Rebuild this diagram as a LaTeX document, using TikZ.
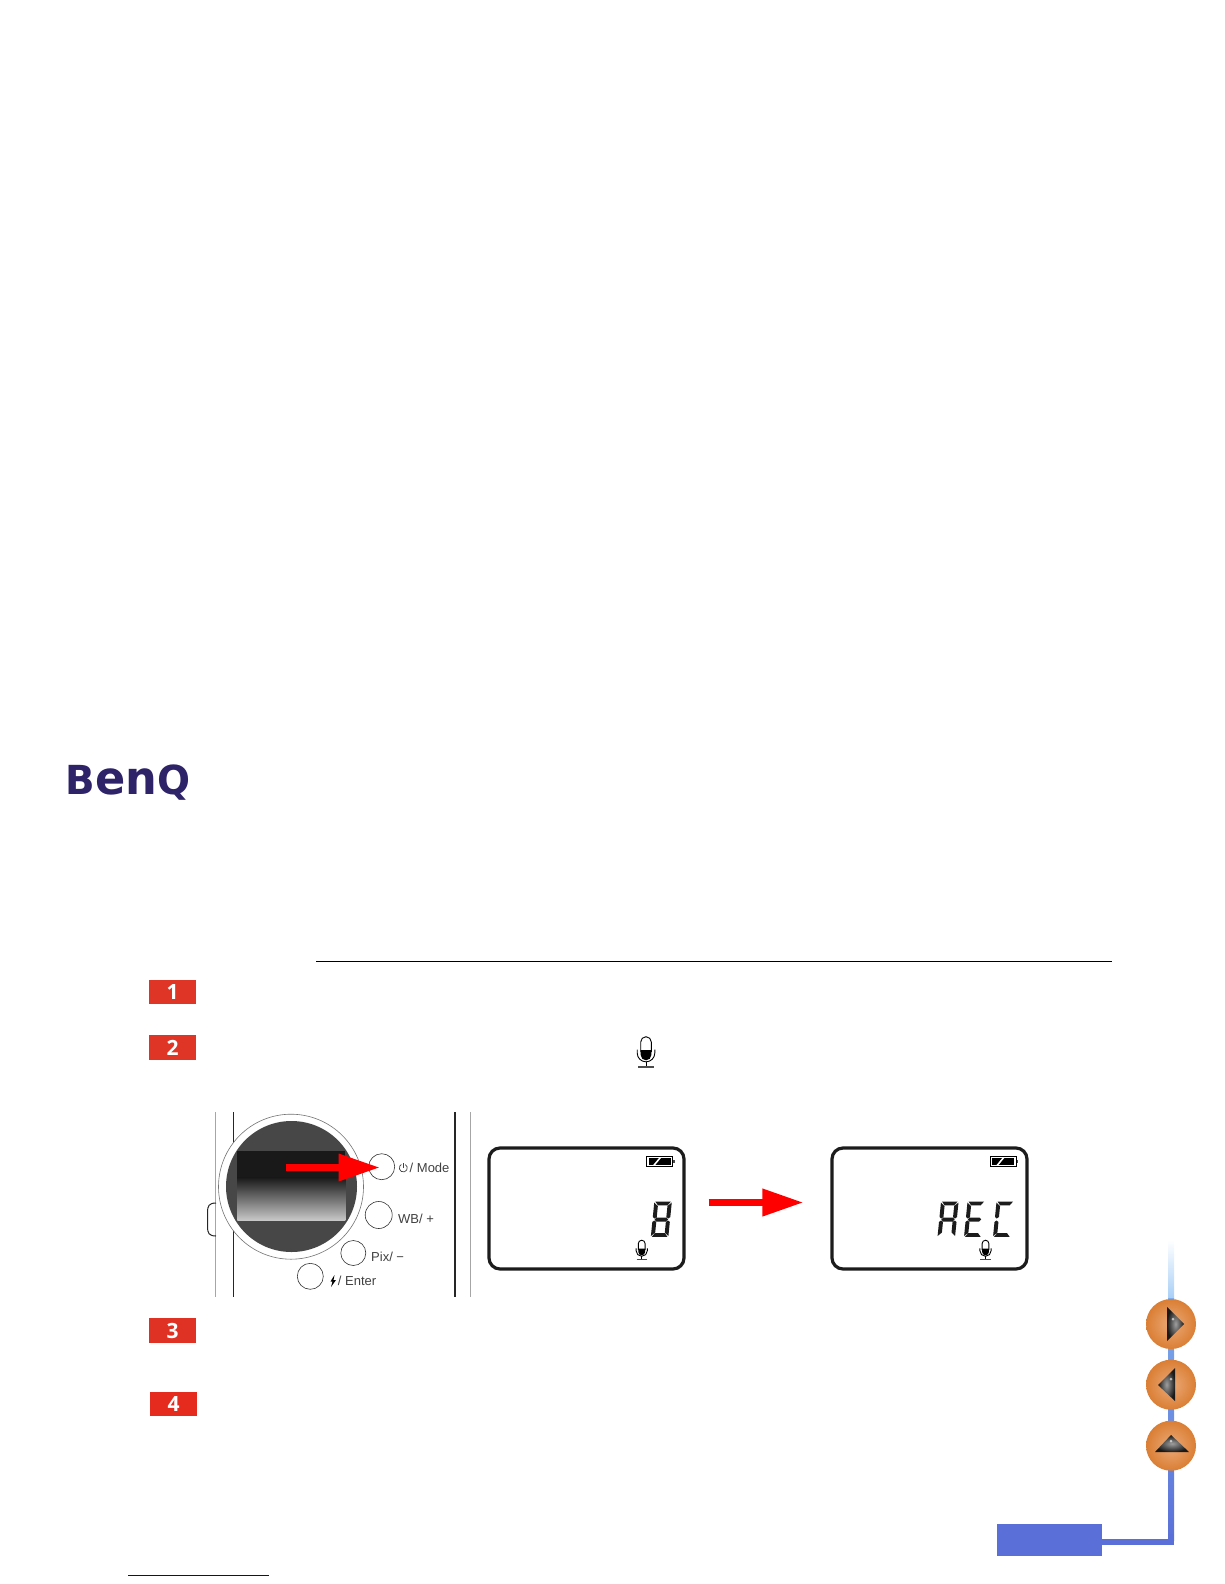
\documentclass[tikz,border=0pt]{standalone}
\usepackage{fontspec}
\setmainfont{Liberation Sans}
\newfontfamily\stepfont{Open Sans}
\newfontfamily\logofont{DejaVu Sans}
\usetikzlibrary{arrows.meta}
\definecolor{benqblue}{HTML}{2E2268}
\definecolor{navblue}{HTML}{5A70D8}
\definecolor{navsky}{HTML}{A8CFF7}
\definecolor{navmid}{HTML}{7FACEC}
\definecolor{ballmid}{HTML}{EBAA78}
\definecolor{ballrim}{HTML}{DA7E34}
\definecolor{stepred}{HTML}{DE3526}
\definecolor{lcdink}{HTML}{1C1C1C}
\def\segA{(2.5,0)--(15.5,0)--(13,3.8)--(5,3.8)--cycle }
\def\segB{(16.3,1)--(16.3,15.5)--(14.8,17)--(13,15.5)--(13,4.6)--cycle }
\def\segC{(16.3,20.5)--(16.3,34.5)--(13,31)--(13,20.5)--(14.8,19)--cycle }
\def\segD{(5,31.5)--(13,31.5)--(15.5,35.3)--(2.5,35.3)--cycle }
\def\segE{(1.7,20.5)--(3.2,19)--(5,20.5)--(5,31)--(1.7,34.5)--cycle }
\def\segF{(1.7,1)--(5,4.6)--(5,15.5)--(3.2,17)--(1.7,15.5)--cycle }
\def\segG{(5,16)--(13,16)--(14.6,18)--(13,20)--(5,20)--(3.4,18)--cycle }
\newcommand{\lcdglyph}[3]{\fill[lcdink,shift={(#1,#2)},xslant=.1,xscale=1.2] #3;}
\tikzset{
  micicon/.pic={
    \fill[black] (-5.3,-2) -- (-5.3,3) arc[start angle=180,end angle=0,radius=5.3] -- (5.3,-2) -- cycle;
    \draw[black,line width=.9pt] (-5.3,0) -- (-5.3,-10) arc[start angle=180,end angle=360,radius=5.3] -- (5.3,0);
    \draw[black,line width=.9pt] (-8.8,-2.5) -- (-8.8,1) arc[start angle=180,end angle=0,radius=8.8] -- (8.8,-2.5);
    \draw[black,line width=.9pt] (0,9.8) -- (0,14);
    \draw[black!70,line width=1.5pt] (-8,14.8) -- (8,14.8);},
  batticon/.pic={
    \draw[black,line width=.7pt,fill=white] (0,0) rectangle (26,10.7);
    \fill[black] (2,1.8) rectangle (24,8.9);
    \fill[white] (6.5,9) -- (12.5,1.7) -- (14.5,1.7) -- (8.5,9) -- cycle;
    \fill[black!70] (26.6,3.8) rectangle (28.2,6.8);}
}
\begin{document}
\begin{tikzpicture}[x=1pt,y=-1pt,
  stepbox/.style={fill=stepred,text=white,minimum width=47pt,minimum height=24.5pt,inner sep=0pt,font=\stepfont\bfseries\fontsize{21}{21}\selectfont},
  btn/.style={circle,draw=black!80,line width=.6pt,fill=white,minimum size=26pt,inner sep=0pt},
  btnlabel/.style={anchor=west,inner sep=0pt,text=black!75,font=\fontsize{13}{14}\selectfont},
  lcd/.style={draw=lcdink,line width=3.2pt,rounded corners=11pt,fill=white,minimum width=195pt,minimum height=121pt,inner sep=0pt},
  redarrow/.style={draw=red,-{Triangle[length=41pt,width=26pt,fill=red]}},
  navball/.style={circle,minimum size=50pt,inner sep=0pt,inner color=ballmid,outer color=ballrim},
  glossy/.style={inner color=black!38,outer color=black!90},
  gloss/.style={white,opacity=.6},
  bodyline/.style={line width=1.3pt,black!85},
  greyline/.style={line width=.6pt,black!35}]
\useasboundingbox (0,0) rectangle (1224,1584);
\node[inner sep=0pt,text=benqblue,font=\logofont\bfseries] (benq) at (128,783)
  {\scalebox{.97}[1]{\fontsize{40}{40}\selectfont B\fontsize{46}{46}\selectfont en\fontsize{40}{40}\selectfont Q}};
\coordinate (rulea) at (316,961.5);
\coordinate (ruleb) at (1112,961.5);
\draw[line width=.8pt,black] (rulea) -- (ruleb);
\node[stepbox] (st1) at (172.5,992) {1};
\node[stepbox] (st2) at (172.5,1047.5) {2};
\node[stepbox,fill=stepred!95!red] (st3) at (172.7,1330.5) {3};
\node[stepbox,fill=stepred!80!red] (st4) at (173.5,1404) {4};
\pic at (646,1052) {micicon};
\draw[greyline] (215.7,1112) -- (215.7,1297);
\draw[bodyline] (233.3,1112) -- (233.3,1297);
\draw[bodyline] (455,1112) -- (455,1297);
\draw[greyline] (470,1112) -- (470,1297);
\draw[line width=1pt,black!85] (216,1203) .. controls (209,1203) and (207.5,1206) .. (207.5,1212) -- (207.5,1227) .. controls (207.5,1233) and (209,1236) .. (216,1236);
\node[circle,draw=black!55,line width=.6pt,fill=white,minimum size=145pt,inner sep=0pt] (dial) at (291,1186.7) {};
\node[circle,fill=black!72,minimum size=131pt,inner sep=0pt] (lens) at (291.5,1186.5) {};
\fill[black!90] (237.3,1150.7) rectangle (345.3,1178);
\shade[top color=black!90,bottom color=black!22] (237.3,1177.5) rectangle (345.3,1220);
\node[btn] (mode) at (381.7,1166.7) {};
\node[btn,minimum size=27pt] (wb) at (378.7,1215) {};
\node[btn,minimum size=25pt] (pix) at (353.3,1253) {};
\node[btn] (enter) at (310.3,1276.3) {};
\draw[black!75,line width=.7pt] (405.3,1164.5) arc[start angle=-60,end angle=240,radius=4];
\draw[black!75,line width=.7pt] (403.3,1163) -- (403.3,1168);
\node[btnlabel] (modelbl) at (409.5,1168) {/ Mode};
\node[btnlabel] (wblbl) at (398,1219) {WB/ +};
\node[btnlabel] (pixlbl) at (371,1257) {Pix/ −};
\fill[black] (334.5,1275) -- (330.5,1281.5) -- (332.5,1281.5) -- (331,1287) -- (336,1280) -- (333.5,1280) -- cycle;
\node[btnlabel] (enterlbl) at (337.7,1281) {/ Enter};
\coordinate (modefrom) at (286,1167.5);
\draw[redarrow,line width=6.5pt,shorten >=2pt] (modefrom) -- (mode.center |- modefrom);
\node[lcd] (lcda) at (586.5,1208.5) {};
\node[lcd] (lcdb) at (929.5,1208.5) {};
\draw[redarrow,line width=7pt,shorten <=23pt,shorten >=27pt] ([yshift=6pt]lcda.east) -- ([yshift=6pt]lcdb.west);
\pic at (646.7,1156) {batticon};
\pic at (990,1156) {batticon};
\lcdglyph{652.3}{1201.5}{\segA \segB \segC \segD \segE \segF \segG}
\lcdglyph{939}{1201.5}{\segA \segB \segC \segE \segF \segG}
\lcdglyph{965.5}{1201.5}{\segA \segD \segE \segF \segG}
\lcdglyph{994.5}{1201.5}{\segA \segD \segE \segF}
\pic[scale=.64] at (641.7,1250) {micicon};
\pic[scale=.64] at (985.5,1250) {micicon};
\shade[top color=white,bottom color=navsky] (1168,1240) rectangle (1174,1298);
\shade[top color=navmid,bottom color=navblue] (1168,1298) rectangle (1174,1540);
\node[fill=navblue,minimum width=105pt,minimum height=32pt,inner sep=0pt] (navbox) at (1049.2,1540) {};
\coordinate (navcorner) at (1171,1541.7);
\draw[line width=6pt,navblue] (navbox.east |- navcorner) -- (navcorner) -- ++(0,-8);
\node[navball] (navnext) at (1171,1324) {};
\node[navball] (navprev) at (1171,1384.7) {};
\node[navball] (navup) at (1171,1445.7) {};
\shade[glossy] (1167,1307) -- (1184,1324) -- (1167,1341) -- cycle;
\shade[glossy] (1175,1368) -- (1158,1385) -- (1175,1401) -- cycle;
\shade[glossy] (1171,1435) -- (1189,1452) -- (1155,1452) -- cycle;
\fill[gloss] (1173,1319) circle[radius=1.5];
\fill[gloss] (1171,1379) circle[radius=1.5];
\fill[gloss] (1171,1441) circle[radius=1.5];
\coordinate (linka) at (128,1575.3);
\coordinate (linkb) at (269,1575.3);
\draw[line width=.8pt,blue!75!black] (linka) -- (linkb);
\end{tikzpicture}
\end{document}
